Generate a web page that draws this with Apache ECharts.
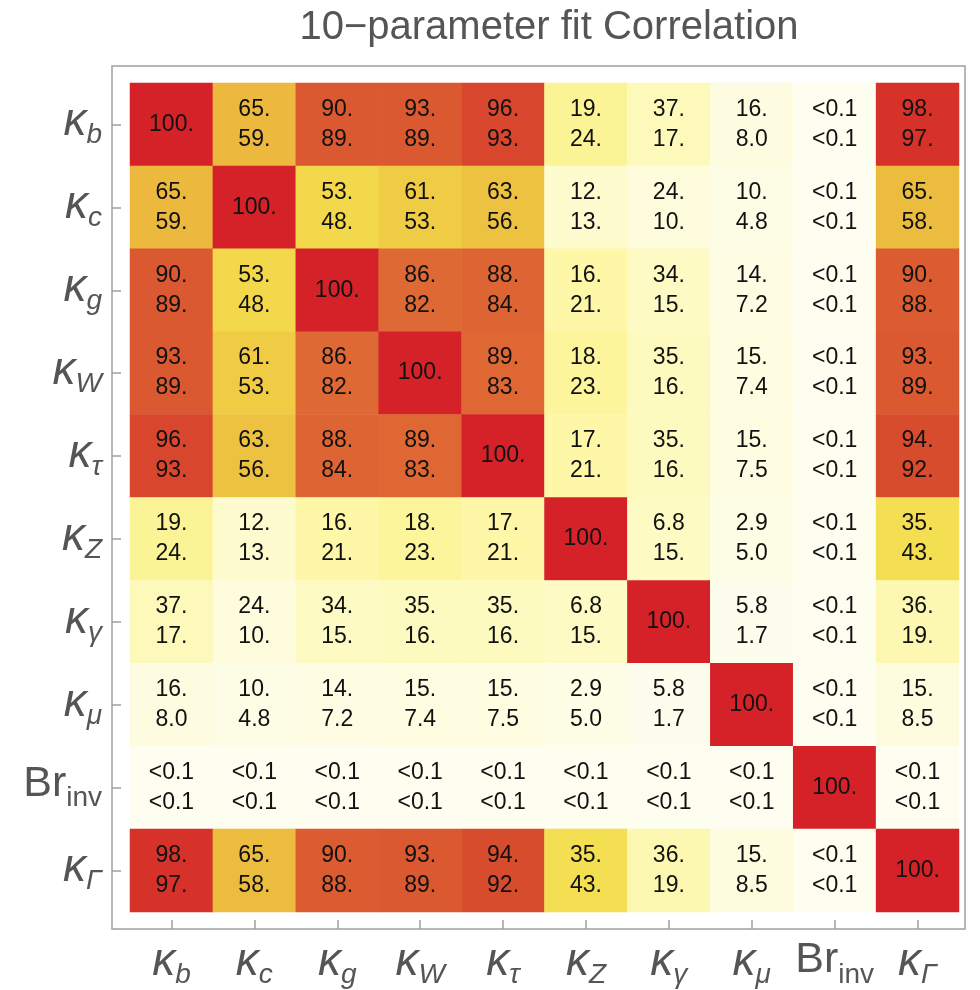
<!DOCTYPE html>
<html>
<head>
<meta charset="utf-8">
<script src="https://cdn.jsdelivr.net/npm/echarts@6/dist/echarts.min.js"></script>
<style>html,body{margin:0;padding:0;background:#fff;}#c{width:980px;height:990px;}</style>
</head>
<body>
<div id="c"></div>
<script>
// Parameters (rows top->bottom, columns left->right)
const params = ['kb','kc','kg','kW','ktau','kZ','kgamma','kmu','Brinv','kGamma'];
const tickLabels = {
  kb: ['κ','b'], kc: ['κ','c'], kg: ['κ','g'], kW: ['κ','W'], ktau: ['κ','τ'],
  kZ: ['κ','Z'], kgamma: ['κ','γ'], kmu: ['κ','μ'], Brinv: ['Br','inv'], kGamma: ['κ','Γ']
};
// 0 means "<0.1"
const upper = [
  [100, 65, 90, 93, 96, 19, 37, 16, 0, 98],
  [65, 100, 53, 61, 63, 12, 24, 10, 0, 65],
  [90, 53, 100, 86, 88, 16, 34, 14, 0, 90],
  [93, 61, 86, 100, 89, 18, 35, 15, 0, 93],
  [96, 63, 88, 89, 100, 17, 35, 15, 0, 94],
  [19, 12, 16, 18, 17, 100, 6.8, 2.9, 0, 35],
  [37, 24, 34, 35, 35, 6.8, 100, 5.8, 0, 36],
  [16, 10, 14, 15, 15, 2.9, 5.8, 100, 0, 15],
  [0, 0, 0, 0, 0, 0, 0, 0, 100, 0],
  [98, 65, 90, 93, 94, 35, 36, 15, 0, 100]
];
const lower = [
  [100, 59, 89, 89, 93, 24, 17, 8.0, 0, 97],
  [59, 100, 48, 53, 56, 13, 10, 4.8, 0, 58],
  [89, 48, 100, 82, 84, 21, 15, 7.2, 0, 88],
  [89, 53, 82, 100, 83, 23, 16, 7.4, 0, 89],
  [93, 56, 84, 83, 100, 21, 16, 7.5, 0, 92],
  [24, 13, 21, 23, 21, 100, 15, 5.0, 0, 43],
  [17, 10, 15, 16, 16, 15, 100, 1.7, 0, 19],
  [8.0, 4.8, 7.2, 7.4, 7.5, 5.0, 1.7, 100, 0, 8.5],
  [0, 0, 0, 0, 0, 0, 0, 0, 100, 0],
  [97, 58, 88, 89, 92, 43, 19, 8.5, 0, 100]
];
const titleText = '10−parameter fit Correlation';

function fmt(v) {
  if (v < 0.1) return '<0.1';
  if (v >= 10) return Math.round(v) + '.';
  return v.toFixed(1);
}

const data = [];
for (let r = 0; r < params.length; r++) {
  for (let c = 0; c < params.length; c++) {
    data.push([c, r, lower[r][c], upper[r][c]]);
  }
}

function axisFmt(v) {
  const t = tickLabels[v];
  if (v === 'Brinv') return '{br|' + t[0] + '}{brs|' + t[1] + '}';
  return '{k|' + t[0] + '}{s|' + t[1] + '}';
}
const labelColor = '#555';
const rich = {
  k: { fontSize: 46, fontStyle: 'italic', color: labelColor, fontFamily: 'Liberation Sans', lineHeight: 50, verticalAlign: 'top' },
  s: { fontSize: 28, fontStyle: 'italic', color: labelColor, fontFamily: 'Liberation Sans', lineHeight: 36, verticalAlign: 'bottom' },
  br: { fontSize: 43, color: labelColor, fontFamily: 'Liberation Sans', lineHeight: 50, verticalAlign: 'top' },
  brs: { fontSize: 28, color: labelColor, fontFamily: 'Liberation Sans', lineHeight: 36, verticalAlign: 'bottom' }
};

const chart = echarts.init(document.getElementById('c'), null, { renderer: 'canvas' });
chart.setOption({
  backgroundColor: '#fff',
  animation: false,
  title: {
    text: titleText, left: 544, top: 3, textAlign: 'center',
    textStyle: { fontSize: 40, fontWeight: 'normal', color: '#555', fontFamily: 'Liberation Sans' }
  },
  grid: { left: 130, top: 83, width: 829, height: 829 },
  graphic: [{
    type: 'rect', shape: { x: 112, y: 66, width: 853, height: 863 },
    style: { fill: 'none', stroke: '#a0a0a0', lineWidth: 1.5 }, z: 0
  }],
  xAxis: {
    type: 'category', data: params, position: 'bottom', offset: 17,
    axisLine: { show: false },
    axisTick: { show: true, inside: true, length: 9, alignWithLabel: true, interval: 0, lineStyle: { color: '#a0a0a0', width: 1.5 } },
    axisLabel: { formatter: axisFmt, rich: rich, margin: 10, interval: 0 },
    splitLine: { show: false }
  },
  yAxis: {
    type: 'category', data: params, inverse: true, offset: 18,
    axisLine: { show: false },
    axisTick: { show: true, inside: true, length: 9, alignWithLabel: true, interval: 0, lineStyle: { color: '#a0a0a0', width: 1.5 } },
    axisLabel: { formatter: axisFmt, rich: rich, margin: 10, interval: 0 },
    splitLine: { show: false }
  },
  visualMap: {
    show: false, type: 'continuous', min: 0, max: 100, dimension: 2,
    inRange: {
      color: ['#fdfdf0', '#fefcdc', '#fdf8ac', '#f9ee78', '#f5e255', '#f2d648',
              '#ebb53c', '#e6983a', '#e06e35', '#d9572f', '#d42228']
    }
  },
  series: [{
    type: 'heatmap', data: data,
    label: {
      show: true, color: '#111', fontSize: 23, lineHeight: 30, fontFamily: 'Liberation Sans',
      formatter: function (p) {
        const lo = p.data[2], up = p.data[3];
        if (p.data[0] === p.data[1]) return fmt(up);
        return fmt(up) + '\n' + fmt(lo);
      }
    },
    itemStyle: { borderWidth: 0 }
  }]
});
</script>
</body>
</html>
